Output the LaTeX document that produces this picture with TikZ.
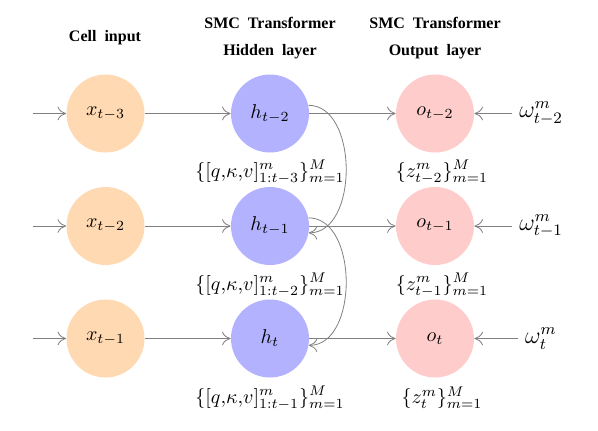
\documentclass[tikz,border=0pt]{standalone}
\usepackage{amsmath,amssymb}
\usepackage{fontspec}
\newfontfamily\headfont{Liberation Serif}
\usetikzlibrary{arrows.meta}
\tikzset{
  cellin/.style={circle, fill=orange!30, minimum size=39pt, inner sep=0pt},
  hidden/.style={circle, fill=blue!30, minimum size=39pt, inner sep=0pt},
  outcell/.style={circle, fill=red!20, minimum size=39pt, inner sep=0pt},
  head/.style={font=\headfont\bfseries\footnotesize},
  link/.style={-{To[length=1.5mm,width=2.4mm]}, black!50, thin},
}

\begin{document}
\begin{tikzpicture}[x=0.5pt,y=-0.5pt]
  \useasboundingbox (0,0) rectangle (598,430);
  % column headings
  \node[head] (hcell) at (105,38) {Cell\ \ input};
  \node[head] (hsmc1) at (270,23) {SMC\ \ Transformer};
  \node[head] (hhid) at (270,52) {Hidden\ \ layer};
  \node[head] (hsmc2) at (435,23) {SMC\ \ Transformer};
  \node[head] (hout) at (435,52) {Output\ \ layer};
  % the three time steps
  \foreach \i/\y/\xs/\hs in {1/113.5/{t-3}/{t-2}, 2/226/{t-2}/{t-1}, 3/338.5/{t-1}/{t}} {
    \coordinate (in\i) at (33,\y);
    \node[cellin] (x\i) at (105.5,\y) {$x_{\xs}$};
    \node[hidden] (h\i) at (270,\y) {$h_{\hs}$};
    \node[outcell] (o\i) at (435,\y) {$o_{\hs}$};
    \node[font=\large] (w\i) at (541,\y) {$\omega^m_{\hs}$};
    \draw[link] (in\i) -- (x\i);
    \draw[link] (x\i) -- (h\i);
    \draw[link] (h\i) -- (o\i);
    \draw[link] (w\i) -- (o\i);
  }
  % memory sets under the nodes
  \node (q1) at (270,172) {$\{[q{,}\kappa{,}v]^m_{1:t-3}\}^M_{m=1}$};
  \node (q2) at (270,285) {$\{[q{,}\kappa{,}v]^m_{1:t-2}\}^M_{m=1}$};
  \node (q3) at (270,398) {$\{[q{,}\kappa{,}v]^m_{1:t-1}\}^M_{m=1}$};
  \node (z1) at (442,172) {$\{z^m_{t-2}\}^M_{m=1}$};
  \node (z2) at (442,285) {$\{z^m_{t-1}\}^M_{m=1}$};
  \node (z3) at (442,398) {$\{z^m_{t}\}^M_{m=1}$};
  % recurrence between hidden states
  \draw[link] (h1.12) to[out=0,in=0] (h2.-10);
  \draw[link] (h2.12) to[out=0,in=0] (h3.-10);
\end{tikzpicture}
\end{document}
